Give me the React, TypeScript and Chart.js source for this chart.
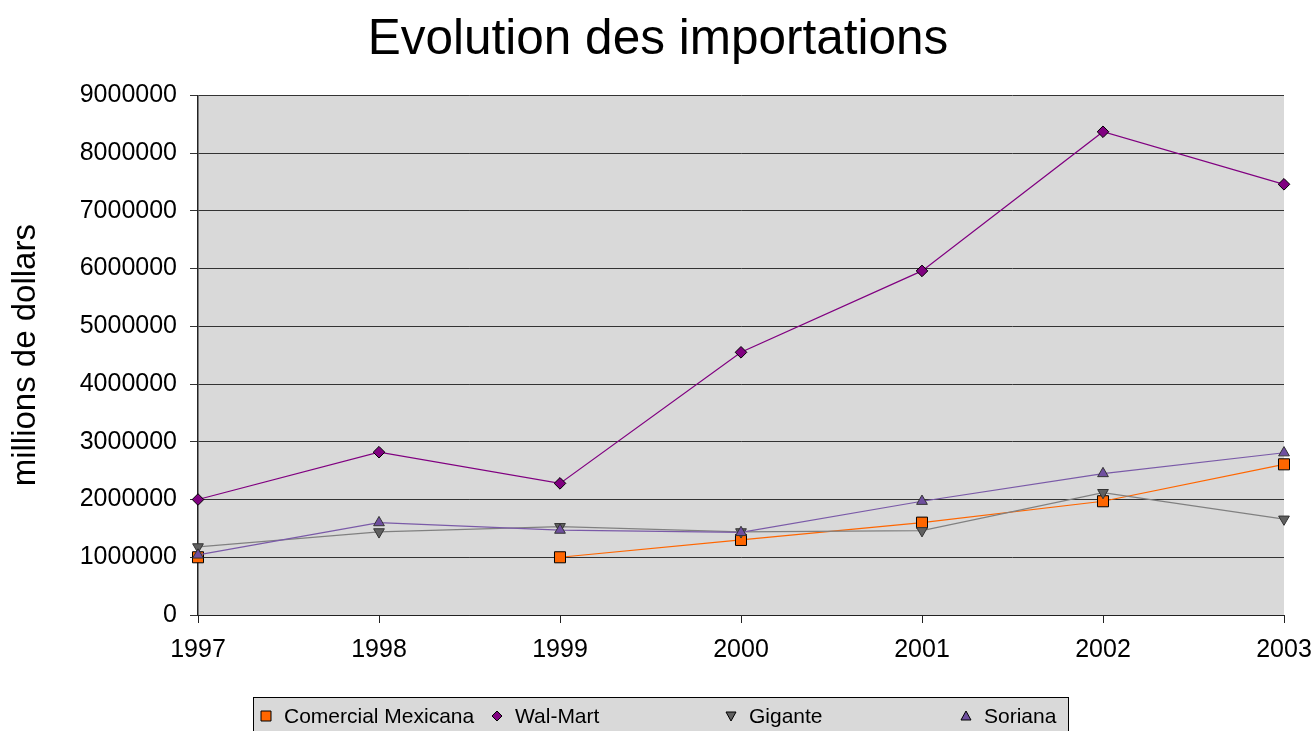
import React, { useEffect, useRef } from "react";
import { Chart, registerables } from "chart.js";

Chart.register(...registerables);

const years = ["1997", "1998", "1999", "2000", "2001", "2002", "2003"];
const comercialMexicana = [1000000, null, 1000000, 1300000, 1600000, 1970000, 2610000];
const walMart = [2000000, 2820000, 2280000, 4550000, 5960000, 8370000, 7460000];
const gigante = [1180000, 1440000, 1530000, 1440000, 1460000, 2120000, 1660000];
const soriana = [1040000, 1600000, 1470000, 1430000, 1970000, 2450000, 2810000];

const titleText = "Evolution des importations";
const yTitle = "millions de dollars";
const FONT = "'Liberation Sans', Arial, sans-serif";

type LegendItem = { label: string; shape: string; fill: string; x: number };
const legendItems: LegendItem[] = [
  { label: "Comercial Mexicana", shape: "rect", fill: "#ff6600", x: 266 },
  { label: "Wal-Mart", shape: "rectRot", fill: "#800080", x: 497 },
  { label: "Gigante", shape: "triDown", fill: "#606060", x: 731 },
  { label: "Soriana", shape: "triangle", fill: "#6f4f9f", x: 966 },
];

const plotBg = {
  id: "plotBg",
  beforeDraw(chart: any) {
    const { ctx, chartArea } = chart;
    ctx.save();
    ctx.fillStyle = "#d9d9d9";
    ctx.fillRect(chartArea.left, chartArea.top, chartArea.right - chartArea.left, chartArea.bottom - chartArea.top);
    ctx.restore();
  },
};

const boxLegend = {
  id: "boxLegend",
  afterDraw(chart: any) {
    const ctx = chart.ctx;
    ctx.save();
    const top = 697;
    const left = 253;
    const right = 1068;
    const bottom = 736;
    ctx.fillStyle = "#d9d9d9";
    ctx.fillRect(left, top, right - left, bottom - top);
    ctx.strokeStyle = "#000";
    ctx.lineWidth = 1;
    ctx.strokeRect(left + 0.5, top + 0.5, right - left, bottom - top);
    const cy = 716;
    ctx.font = `21px ${FONT}`;
    ctx.textBaseline = "middle";
    ctx.textAlign = "left";
    for (const it of legendItems) {
      ctx.fillStyle = it.fill;
      ctx.strokeStyle = "#000";
      ctx.lineWidth = 1;
      ctx.beginPath();
      if (it.shape === "rect") {
        ctx.rect(it.x - 5, cy - 5, 10, 10);
      } else if (it.shape === "rectRot") {
        ctx.moveTo(it.x, cy - 5);
        ctx.lineTo(it.x + 5, cy);
        ctx.lineTo(it.x, cy + 5);
        ctx.lineTo(it.x - 5, cy);
        ctx.closePath();
      } else if (it.shape === "triDown") {
        ctx.moveTo(it.x - 5, cy - 4);
        ctx.lineTo(it.x + 5, cy - 4);
        ctx.lineTo(it.x, cy + 5);
        ctx.closePath();
      } else {
        ctx.moveTo(it.x - 5, cy + 4);
        ctx.lineTo(it.x + 5, cy + 4);
        ctx.lineTo(it.x, cy - 5);
        ctx.closePath();
      }
      ctx.fill();
      ctx.stroke();
      ctx.fillStyle = "#000";
      ctx.fillText(it.label, it.x + 18, cy + 1);
    }
    ctx.restore();
  },
};

export default function App() {
  const ref = useRef<HTMLCanvasElement | null>(null);
  useEffect(() => {
    if (!ref.current) return;
    const chart = new Chart(ref.current, {
      type: "line",
      data: {
        labels: years,
        datasets: [
          {
            label: "Comercial Mexicana",
            data: comercialMexicana,
            borderColor: "#ff6600",
            backgroundColor: "#ff6600",
            pointBackgroundColor: "#ff6600",
            pointBorderColor: "#000",
            pointStyle: "rect",
            pointRadius: 7.8,
            borderWidth: 1.2,
            pointBorderWidth: 1,
            spanGaps: false,
            order: 3,
          },
          {
            label: "Wal-Mart",
            data: walMart,
            borderColor: "#800080",
            backgroundColor: "#800080",
            pointBackgroundColor: "#800080",
            pointBorderColor: "#000",
            pointStyle: "rectRot",
            pointRadius: 5.8,
            borderWidth: 1.2,
            pointBorderWidth: 1,
            order: 2,
          },
          {
            label: "Gigante",
            data: gigante,
            borderColor: "#808080",
            backgroundColor: "#606060",
            pointBackgroundColor: "#606060",
            pointBorderColor: "#333",
            pointStyle: "triangle",
            pointRotation: 180,
            pointRadius: 6.2,
            borderWidth: 1.2,
            pointBorderWidth: 1,
            order: 1,
          },
          {
            label: "Soriana",
            data: soriana,
            borderColor: "#7a5aa8",
            backgroundColor: "#6f4f9f",
            pointBackgroundColor: "#6f4f9f",
            pointBorderColor: "#333",
            pointStyle: "triangle",
            pointRadius: 6.2,
            borderWidth: 1.2,
            pointBorderWidth: 1,
            order: 0,
          },
        ],
      },
      options: {
        responsive: true,
        maintainAspectRatio: false,
        animation: false,
        layout: { padding: { left: 0, right: 0, top: 0, bottom: 54 } },
        plugins: {
          legend: { display: false },
          tooltip: { enabled: false },
          title: {
            display: true,
            text: titleText,
            color: "#000",
            font: { family: FONT, size: 49.5, weight: "normal" },
            padding: { top: 11, bottom: 25 },
          },
        },
        scales: {
          x: {
            type: "category",
            offset: false,
            afterFit(scale: any) {
              scale.paddingRight = 32;
              scale.paddingLeft = 0;
            },
            grid: {
              display: true,
              drawOnChartArea: false,
              drawTicks: true,
              tickLength: 8,
              color: "#222",
            },
            border: { display: true, color: "#222", width: 1 },
            ticks: {
              color: "#000",
              font: { family: FONT, size: 25 },
              padding: 12,
              maxRotation: 0,
              autoSkip: false,
            },
          },
          y: {
            min: 0,
            max: 9000000,
            afterFit(scale: any) {
              scale.width = 198;
            },
            grid: {
              display: true,
              drawOnChartArea: true,
              drawTicks: true,
              tickLength: 8,
              color: "#333",
              lineWidth: 1,
            },
            border: { display: true, color: "#222", width: 1.5 },
            title: {
              display: true,
              text: yTitle,
              color: "#000",
              font: { family: FONT, size: 33, weight: "normal" },
              padding: { top: 6, bottom: 0 },
            },
            ticks: {
              stepSize: 1000000,
              color: "#000",
              font: { family: FONT, size: 25 },
              padding: 13,
              callback: (v: any) => String(v),
            },
          },
        },
      },
      plugins: [plotBg, boxLegend],
    });
    return () => chart.destroy();
  }, []);
  return (
    <div style={{ position: "absolute", left: 0, top: 0, width: 1316, height: 731, background: "#fff" }}>
      <canvas ref={ref} />
    </div>
  );
}
